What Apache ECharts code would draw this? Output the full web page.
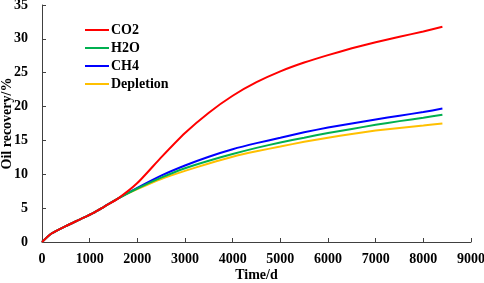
<!DOCTYPE html>
<html>
<head>
<meta charset="utf-8">
<script src="https://cdn.jsdelivr.net/npm/echarts@6/dist/echarts.min.js"></script>
<style>
  html, body { margin: 0; padding: 0; background: #fff; }
  #chart { width: 484px; height: 283px; }
</style>
</head>
<body>
<div id="chart"></div>
<script>
// 时间 (d)
var days = [0, 200, 500, 800, 1080, 1300, 1600, 2000, 2500, 3000, 3500, 4000, 4500, 5000, 5500, 6000, 6500, 7000, 7500, 8000, 8400];
// 采收率 (%)
var co2       = [0, 1.25, 2.35, 3.35, 4.3, 5.2, 6.45, 8.7, 12.5, 16.1, 19.1, 21.6, 23.6, 25.2, 26.5, 27.6, 28.6, 29.5, 30.3, 31.1, 31.8];
var h2o       = [0, 1.25, 2.35, 3.35, 4.3, 5.2, 6.45, 7.9, 9.5, 10.9, 12.0, 13.0, 13.9, 14.7, 15.4, 16.1, 16.7, 17.3, 17.85, 18.35, 18.8];
var ch4       = [0, 1.25, 2.35, 3.35, 4.3, 5.2, 6.45, 8.0, 9.8, 11.3, 12.6, 13.7, 14.6, 15.4, 16.2, 16.9, 17.5, 18.1, 18.65, 19.2, 19.7];
var depletion = [0, 1.25, 2.35, 3.35, 4.3, 5.2, 6.45, 7.8, 9.3, 10.5, 11.6, 12.6, 13.4, 14.1, 14.8, 15.4, 15.95, 16.45, 16.85, 17.2, 17.5];

var names  = ['CO2', 'H2O', 'CH4', 'Depletion'];
var colors = ['#ff0000', '#00b050', '#0000ff', '#ffc000'];
var values = [co2, h2o, ch4, depletion];

function pairs(ys) {
    return days.map(function (d, i) { return [d, ys[i]]; });
}

var font = 'Liberation Serif';
var axisColor = '#404040';
var labelStyle = { fontFamily: font, fontWeight: 'bold', fontSize: 14, color: '#000' };

var chart = echarts.init(document.getElementById('chart'));
chart.setOption({
    animation: false,
    color: colors,
    grid: { left: 42, right: 13, top: 5, bottom: 41, containLabel: false, outerBoundsMode: 'none' },
    legend: {
        orient: 'vertical',
        left: 80,
        top: 18,
        itemWidth: 24,
        itemHeight: 2,
        itemGap: 4,
        icon: 'rect',
        textStyle: { fontFamily: font, fontWeight: 'bold', fontSize: 14, color: '#000', padding: [0, 0, 0, -3] },
        data: names
    },
    xAxis: {
        type: 'value',
        min: 0, max: 9000, interval: 1000,
        name: 'Time/d',
        nameLocation: 'middle',
        nameGap: 26,
        nameMoveOverlap: false,
        nameTextStyle: labelStyle,
        axisLine: { lineStyle: { color: axisColor, width: 1 } },
        axisTick: { inside: true, length: 4, lineStyle: { color: axisColor } },
        axisLabel: Object.assign({ margin: 10, formatter: function (v) { return String(v); } }, labelStyle),
        splitLine: { show: false }
    },
    yAxis: {
        type: 'value',
        min: 0, max: 35, interval: 5,
        name: 'Oil recovery/%',
        nameLocation: 'middle',
        nameGap: 28,
        nameMoveOverlap: false,
        nameTextStyle: labelStyle,
        axisLine: { show: true, lineStyle: { color: axisColor, width: 1 } },
        axisTick: { show: true, inside: true, length: 4, lineStyle: { color: axisColor } },
        axisLabel: Object.assign({ margin: 14 }, labelStyle),
        splitLine: { show: false }
    },
    series: names.map(function (n, i) {
        return {
            name: n,
            type: 'line',
            smooth: 0.2,
            showSymbol: false,
            lineStyle: { width: 2, color: colors[i] },
            z: 10 - i,
            data: pairs(values[i])
        };
    })
});
</script>
</body>
</html>
